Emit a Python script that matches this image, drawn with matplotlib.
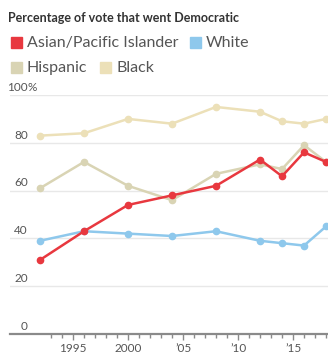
import matplotlib
matplotlib.use("Agg")
import matplotlib.pyplot as plt
from matplotlib.patches import Rectangle
from matplotlib.ticker import FixedLocator

years = [1992, 1996, 2000, 2004, 2008, 2012, 2014, 2016, 2018]
asian = [31, 43, 54, 58, 62, 73, 66, 76, 72]
white = [39, 43, 42, 41, 43, 39, 38, 37, 45]
hispanic = [61, 72, 62, 56, 67, 71, 69, 79, 72]
black = [83, 84, 90, 88, 95, 93, 89, 88, 90]

series_names = ["Asian/Pacific Islander", "White", "Hispanic", "Black"]
colors = {"Asian/Pacific Islander": "#e8383f", "White": "#8ec8ec",
          "Hispanic": "#d9d4b4", "Black": "#ece0b8"}
ytick_vals = [0, 20, 40, 60, 80, 100]
xtick_vals = [1995, 2000, 2005, 2010, 2015]
xtick_labels = ["1995", "2000", "\u201905", "\u201910", "\u201915"]

W, H = 328, 354
fig = plt.figure(figsize=(W / 100, H / 100), dpi=100)
font = "Lato"

def fx(px):
    return px / W

def fy(py):
    return 1 - py / H

ax = fig.add_axes([fx(10), fy(334), fx(328) - fx(10), fy(95) - fy(334)])
ax.set_xlim(1989.27, 2018.18)
ax.set_ylim(0, 100)
for s in ax.spines.values():
    s.set_visible(False)
ax.axhline(0, color="#8a8a8a", lw=1.6, zorder=2, clip_on=False)
for v in ytick_vals[1:]:
    ax.axhline(v, color="#e8e8e8", lw=1.0, zorder=0)
ax.set_yticks([])

ax.xaxis.set_major_locator(FixedLocator(xtick_vals))
ax.xaxis.set_minor_locator(FixedLocator([y for y in range(1993, 2019) if y % 5]))
ax.set_xticklabels(xtick_labels, fontfamily=font, fontsize=8.5, color="#555555")
ax.tick_params(axis="x", which="major", length=4.5, width=1, color="#8a8a8a", pad=2)
ax.tick_params(axis="x", which="minor", length=3, width=1, color="#8a8a8a")

for v in ytick_vals:
    ax.text(1989.27 + 18 / 11, v + 0.9, str(v), ha="right", va="bottom",
            fontfamily=font, fontsize=8.5, color="#555555")
ax.text(1989.27 + 18 / 11, 100 + 0.9, "%", ha="left", va="bottom",
        fontfamily=font, fontsize=8.5, color="#555555")

data = {"Asian/Pacific Islander": asian, "White": white,
        "Hispanic": hispanic, "Black": black}
order = ["Black", "Hispanic", "White", "Asian/Pacific Islander"]
for i, name in enumerate(order):
    ax.plot(years, data[name], color=colors[name], lw=1.8, marker="o",
            markersize=4.5, zorder=3 + i, clip_on=False)

fig.text(fx(8), fy(18), "Percentage of vote that went Democratic",
         fontfamily=font, fontweight="bold", fontsize=9, color="#333333",
         ha="left", va="center")

legend_pos = [("Asian/Pacific Islander", 11, 43), ("White", 190, 43),
              ("Hispanic", 11, 68), ("Black", 100, 68)]
for name, x, y in legend_pos:
    fig.patches.append(Rectangle((fx(x), fy(y + 5)), fx(11), fy(0) - fy(11),
                                 transform=fig.transFigure, color=colors[name]))
    fig.text(fx(x + 16), fy(y), name, fontfamily=font, fontsize=11.5,
             color="#555555", ha="left", va="center")

fig.savefig("out.png", dpi=100)
